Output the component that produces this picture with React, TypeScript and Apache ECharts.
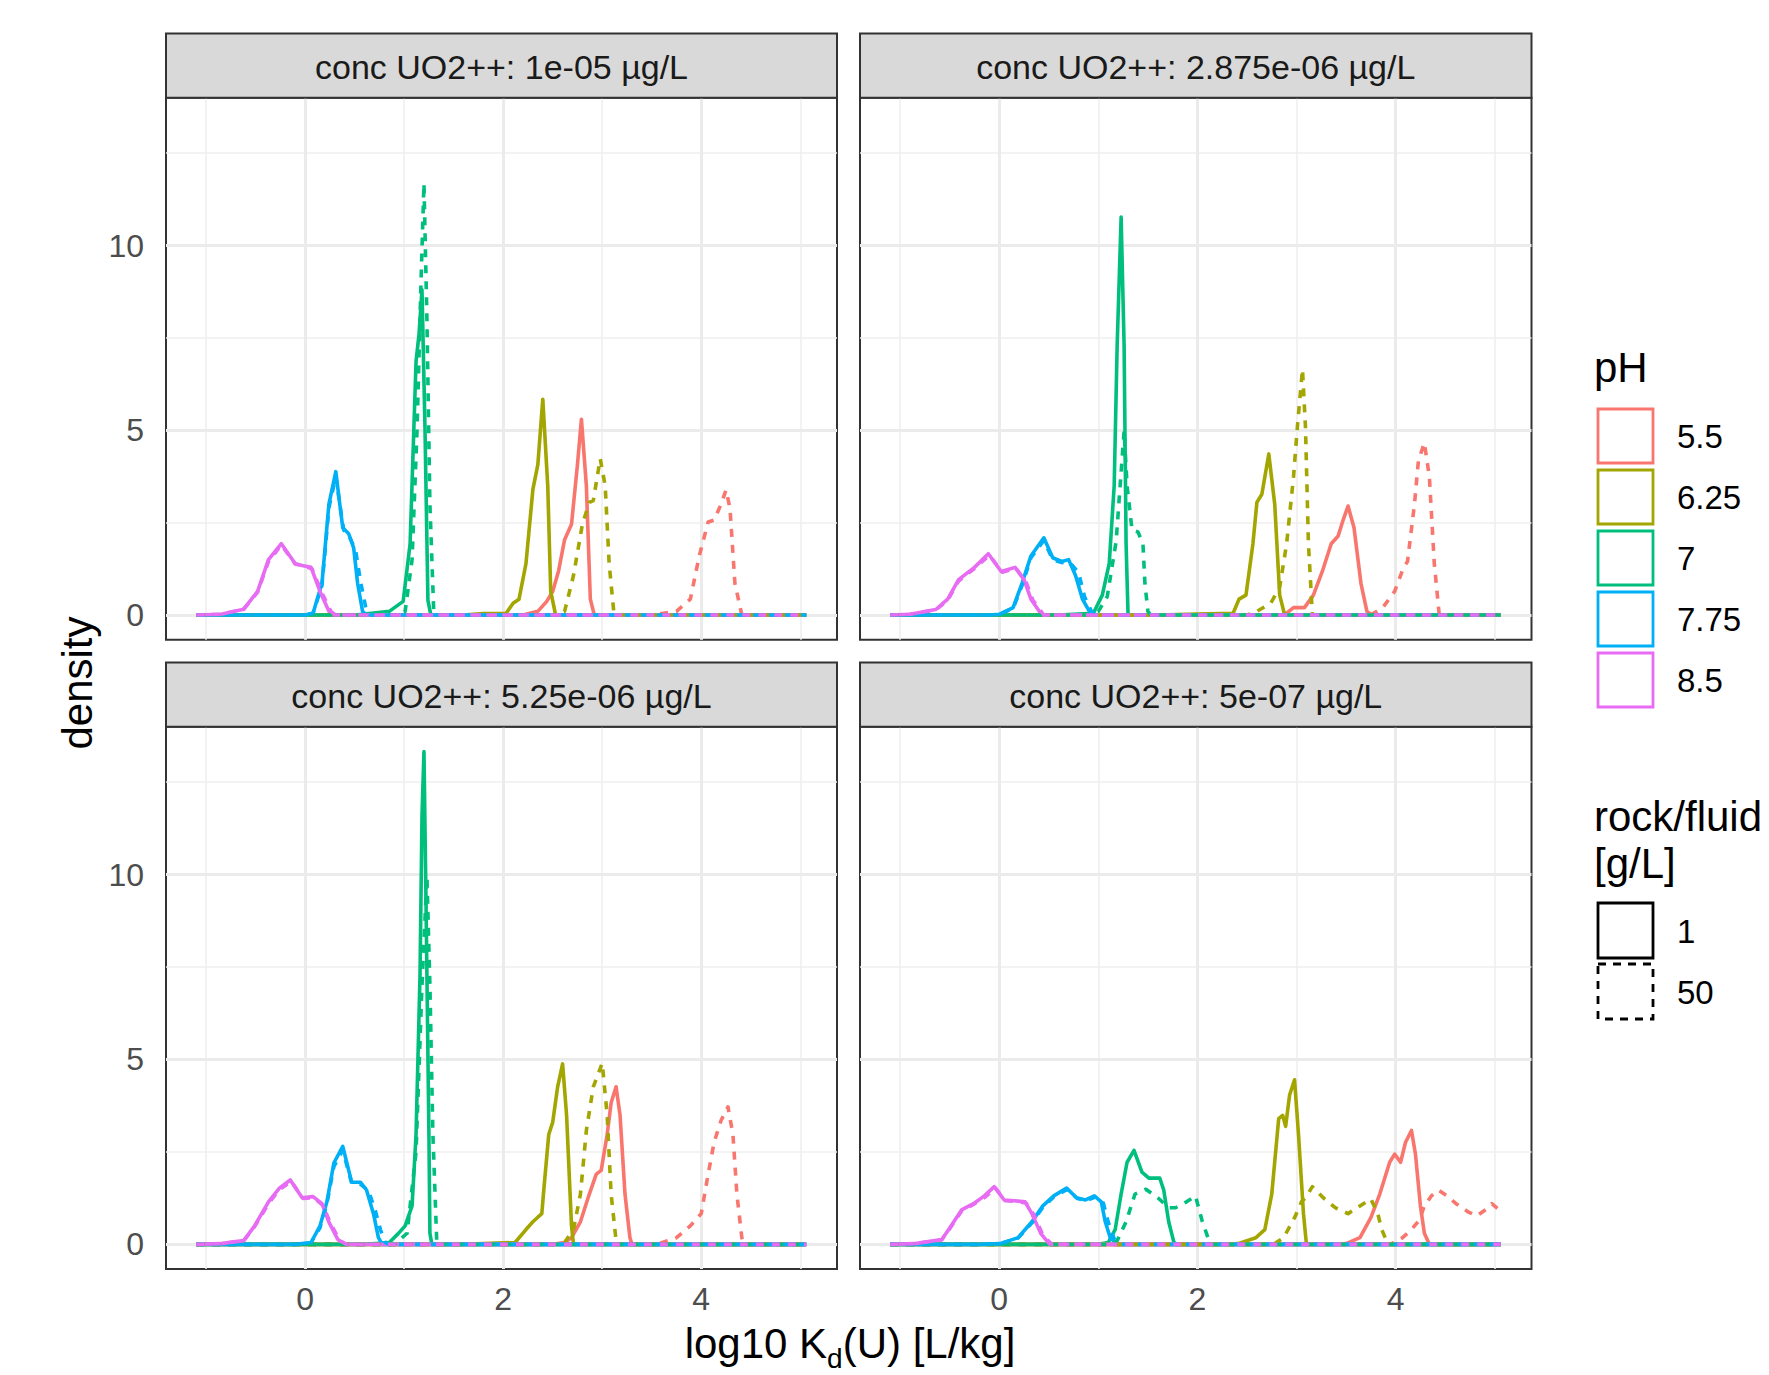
import React, { useEffect, useRef } from 'react';
import * as echarts from 'echarts';

// ---------- categories / labels ----------
const PH_LEVELS = ['5.5', '6.25', '7', '7.75', '8.5'];
const PH_COLORS = ['#F8766D', '#A3A500', '#00BF7D', '#00B0F6', '#E76BF3'];
const RF_LEVELS = ['1', '50'];
const PANEL_TITLES = [
  'conc UO2++: 1e-05 µg/L',
  'conc UO2++: 2.875e-06 µg/L',
  'conc UO2++: 5.25e-06 µg/L',
  'conc UO2++: 5e-07 µg/L',
];
const X_TICKS = [0, 2, 4];
const X_MINOR = [-1, 1, 3, 5];
const Y_TICKS = [0, 5, 10];
const Y_MINOR = [2.5, 7.5, 12.5];
const X_RANGE = [-1.405, 5.371];
const Y_RANGE = [-0.667, 14.0];

// ---------- density curves [log10 Kd, density] ----------
// Panel A: 1e-05
const A_55_1 = [[-1.1, 0], [2.2, 0], [2.35, 0.1], [2.44, 0.37], [2.5, 0.64], [2.56, 1.2], [2.62, 2.04], [2.69, 2.46], [2.75, 4.07], [2.79, 5.3], [2.84, 3.5], [2.88, 0.43], [2.92, 0], [5.06, 0]];
const A_55_50 = [[-1.1, 0], [3.5, 0], [3.75, 0.1], [3.89, 0.43], [3.98, 1.6], [4.07, 2.52], [4.13, 2.57], [4.2, 3.0], [4.25, 3.38], [4.29, 2.9], [4.34, 0.86], [4.41, 0], [5.06, 0]];
const A_625_1 = [[-1.1, 0], [1.6, 0], [1.8, 0.04], [2.03, 0.05], [2.1, 0.32], [2.16, 0.43], [2.23, 1.39], [2.3, 3.4], [2.35, 4.07], [2.4, 5.84], [2.45, 3.5], [2.48, 0.64], [2.53, 0], [5.06, 0]];
const A_625_50 = [[-1.1, 0], [2.5, 0], [2.62, 0.1], [2.71, 1.07], [2.8, 2.46], [2.87, 3.05], [2.91, 3.1], [2.98, 4.23], [3.03, 3.5], [3.07, 1.4], [3.12, 0], [5.06, 0]];
const A_7_1 = [[-1.1, 0], [0.5, 0], [0.58, 0.02], [0.85, 0.1], [0.99, 0.37], [1.06, 1.93], [1.12, 6.86], [1.15, 7.6], [1.18, 8.8], [1.21, 5.1], [1.24, 0.4], [1.27, 0], [5.06, 0]];
const A_7_50 = [[-1.1, 0], [0.9, 0], [1.01, 0.1], [1.08, 1.5], [1.13, 5.0], [1.17, 9.0], [1.2, 11.68], [1.23, 8.0], [1.26, 3.0], [1.3, 0], [5.06, 0]];
const A_775_1 = [[-1.1, 0], [0.0, 0], [0.08, 0.05], [0.17, 0.86], [0.24, 3.0], [0.31, 3.88], [0.35, 3.0], [0.38, 2.36], [0.44, 2.2], [0.49, 1.82], [0.53, 0.86], [0.58, 0.1], [0.62, 0], [5.06, 0]];
const A_775_50 = [[-1.1, 0], [0.0, 0], [0.08, 0.05], [0.17, 0.8], [0.24, 2.9], [0.31, 3.75], [0.35, 3.0], [0.39, 2.3], [0.45, 2.1], [0.51, 1.75], [0.56, 0.9], [0.62, 0.1], [0.66, 0], [5.06, 0]];
const A_85_1 = [[-1.1, 0], [-0.85, 0.02], [-0.62, 0.16], [-0.48, 0.64], [-0.37, 1.5], [-0.24, 1.93], [-0.1, 1.39], [-0.03, 1.34], [0.06, 1.29], [0.15, 0.64], [0.24, 0.1], [0.29, 0], [5.06, 0]];
const A_85_50 = [[-1.1, 0], [-0.85, 0.02], [-0.62, 0.16], [-0.48, 0.62], [-0.37, 1.45], [-0.24, 1.9], [-0.1, 1.38], [-0.02, 1.33], [0.07, 1.25], [0.17, 0.6], [0.26, 0.1], [0.31, 0], [5.06, 0]];

// Panel B: 2.875e-06
const B_55_1 = [[-1.1, 0], [2.85, 0], [2.9, 0.05], [2.97, 0.2], [3.08, 0.2], [3.17, 0.54], [3.26, 1.18], [3.35, 1.93], [3.42, 2.14], [3.47, 2.57], [3.52, 2.95], [3.58, 2.36], [3.65, 0.86], [3.71, 0.1], [3.76, 0], [5.06, 0]];
const B_55_50 = [[-1.1, 0], [3.7, 0], [3.76, 0.02], [3.87, 0.2], [3.99, 0.64], [4.08, 1.29], [4.12, 1.45], [4.19, 3.0], [4.23, 4.18], [4.29, 4.66], [4.34, 3.75], [4.39, 1.4], [4.44, 0], [5.06, 0]];
const B_625_1 = [[-1.1, 0], [1.6, 0], [2.0, 0.03], [2.36, 0.05], [2.42, 0.43], [2.49, 0.54], [2.56, 1.93], [2.6, 3.05], [2.65, 3.27], [2.72, 4.36], [2.78, 3.0], [2.83, 0.54], [2.88, 0], [5.06, 0]];
const B_625_50 = [[-1.1, 0], [2.5, 0], [2.6, 0.1], [2.74, 0.32], [2.83, 0.75], [2.9, 1.93], [2.97, 3.75], [3.01, 5.14], [3.06, 6.65], [3.09, 5.1], [3.12, 1.93], [3.16, 0], [5.06, 0]];
const B_7_1 = [[-1.1, 0], [0.6, 0], [0.95, 0.05], [1.04, 0.54], [1.11, 1.4], [1.16, 3.5], [1.19, 7.3], [1.23, 10.77], [1.26, 7.3], [1.28, 1.93], [1.3, 0], [5.06, 0]];
const B_7_50 = [[-1.1, 0], [0.9, 0], [1.0, 0.1], [1.09, 0.5], [1.18, 2.0], [1.22, 3.5], [1.26, 4.98], [1.29, 3.5], [1.34, 2.3], [1.4, 2.25], [1.45, 1.93], [1.47, 0.86], [1.5, 0.1], [1.53, 0], [5.06, 0]];
const B_775_1 = [[-1.1, 0], [-0.1, 0], [0.0, 0.02], [0.14, 0.2], [0.23, 0.86], [0.32, 1.6], [0.45, 2.09], [0.54, 1.55], [0.63, 1.45], [0.7, 1.5], [0.77, 1.07], [0.84, 0.43], [0.91, 0.1], [0.95, 0], [5.06, 0]];
const B_775_50 = [[-1.1, 0], [-0.1, 0], [0.0, 0.02], [0.14, 0.18], [0.23, 0.8], [0.32, 1.55], [0.45, 2.02], [0.54, 1.5], [0.63, 1.42], [0.72, 1.4], [0.8, 1.15], [0.86, 0.5], [0.93, 0.1], [0.98, 0], [5.06, 0]];
const B_85_1 = [[-1.1, 0], [-0.9, 0.02], [-0.64, 0.15], [-0.52, 0.43], [-0.41, 0.96], [-0.25, 1.29], [-0.11, 1.66], [0.02, 1.18], [0.16, 1.29], [0.25, 0.96], [0.32, 0.43], [0.43, 0], [5.06, 0]];
const B_85_50 = [[-1.1, 0], [-0.9, 0.02], [-0.64, 0.14], [-0.52, 0.4], [-0.41, 0.92], [-0.25, 1.26], [-0.1, 1.62], [0.03, 1.16], [0.17, 1.26], [0.27, 0.9], [0.34, 0.4], [0.45, 0], [5.06, 0]];

// Panel C: 5.25e-06
const C_55_1 = [[-1.1, 0], [2.5, 0], [2.62, 0.05], [2.69, 0.18], [2.78, 0.61], [2.87, 1.36], [2.94, 1.9], [2.99, 2.0], [3.05, 2.97], [3.09, 3.83], [3.14, 4.26], [3.18, 3.5], [3.23, 1.36], [3.28, 0.18], [3.3, 0], [5.06, 0]];
const C_55_50 = [[-1.1, 0], [3.5, 0], [3.57, 0.02], [3.75, 0.18], [3.89, 0.5], [4.0, 0.83], [4.07, 1.9], [4.13, 2.76], [4.2, 3.35], [4.27, 3.72], [4.32, 2.97], [4.36, 1.36], [4.41, 0.18], [4.43, 0], [5.06, 0]];
const C_625_1 = [[-1.1, 0], [1.6, 0], [2.12, 0.05], [2.23, 0.4], [2.3, 0.61], [2.39, 0.83], [2.41, 1.47], [2.46, 2.97], [2.5, 3.3], [2.55, 4.26], [2.6, 4.88], [2.64, 3.5], [2.69, 0.5], [2.71, 0], [5.06, 0]];
const C_625_50 = [[-1.1, 0], [2.5, 0], [2.62, 0.05], [2.71, 0.4], [2.78, 1.36], [2.84, 3.08], [2.91, 4.26], [3.0, 4.9], [3.05, 3.5], [3.09, 1.36], [3.14, 0.1], [3.17, 0], [5.06, 0]];
const C_7_1 = [[-1.1, 0], [0.6, 0], [0.85, 0.05], [0.94, 0.29], [1.01, 0.5], [1.08, 1.04], [1.12, 2.97], [1.16, 7.26], [1.18, 11.56], [1.2, 13.33], [1.22, 9.4], [1.25, 2.97], [1.26, 0.3], [1.28, 0], [5.06, 0]];
const C_7_50 = [[-1.1, 0], [0.9, 0], [1.03, 0.3], [1.12, 2.5], [1.18, 7.0], [1.23, 9.95], [1.26, 7.0], [1.29, 3.0], [1.33, 0], [5.06, 0]];
const C_775_1 = [[-1.1, 0], [-0.1, 0], [0.06, 0.05], [0.15, 0.5], [0.22, 1.15], [0.29, 2.2], [0.38, 2.65], [0.47, 1.68], [0.56, 1.68], [0.62, 1.47], [0.69, 0.83], [0.74, 0.18], [0.78, 0], [5.06, 0]];
const C_775_50 = [[-1.1, 0], [-0.1, 0], [0.06, 0.05], [0.15, 0.45], [0.22, 1.1], [0.29, 2.1], [0.38, 2.55], [0.47, 1.65], [0.56, 1.62], [0.64, 1.45], [0.71, 0.9], [0.76, 0.4], [0.81, 0.05], [0.84, 0], [5.06, 0]];
const C_85_1 = [[-1.1, 0], [-0.85, 0.02], [-0.62, 0.1], [-0.51, 0.5], [-0.37, 1.15], [-0.26, 1.52], [-0.15, 1.74], [-0.03, 1.26], [0.08, 1.29], [0.17, 1.1], [0.24, 0.6], [0.33, 0.13], [0.4, 0], [5.06, 0]];
const C_85_50 = [[-1.1, 0], [-0.85, 0.02], [-0.62, 0.1], [-0.51, 0.48], [-0.37, 1.1], [-0.26, 1.48], [-0.14, 1.7], [-0.02, 1.24], [0.09, 1.26], [0.18, 1.05], [0.26, 0.55], [0.35, 0.1], [0.42, 0], [5.06, 0]];

// Panel D: 5e-07
const D_55_1 = [[-1.1, 0], [3.4, 0], [3.5, 0.02], [3.64, 0.18], [3.75, 0.72], [3.84, 1.36], [3.94, 2.22], [3.99, 2.44], [4.05, 2.22], [4.1, 2.76], [4.16, 3.08], [4.2, 2.44], [4.25, 1.04], [4.29, 0.3], [4.34, 0], [5.06, 0]];
const D_55_50 = [[-1.1, 0], [3.9, 0], [3.96, 0.02], [4.07, 0.18], [4.16, 0.4], [4.24, 0.66], [4.29, 1.04], [4.36, 1.31], [4.43, 1.47], [4.52, 1.31], [4.61, 1.1], [4.73, 0.88], [4.82, 0.77], [4.91, 0.94], [4.97, 1.1], [5.06, 0.9]];
const D_625_1 = [[-1.1, 0], [2.3, 0], [2.41, 0.02], [2.59, 0.18], [2.68, 0.4], [2.75, 1.36], [2.82, 3.4], [2.86, 3.49], [2.89, 3.19], [2.93, 4.04], [2.98, 4.45], [3.02, 2.97], [3.07, 0.83], [3.1, 0], [5.06, 0]];
const D_625_50 = [[-1.1, 0], [2.7, 0], [2.78, 0.02], [2.87, 0.18], [2.98, 0.72], [3.05, 1.15], [3.09, 1.26], [3.16, 1.56], [3.27, 1.26], [3.39, 0.99], [3.52, 0.83], [3.64, 1.04], [3.75, 1.23], [3.82, 0.83], [3.86, 0.4], [3.91, 0.08], [3.93, 0], [5.06, 0]];
const D_7_1 = [[-1.1, 0], [1.0, 0], [1.1, 0.05], [1.17, 0.4], [1.23, 1.36], [1.29, 2.22], [1.36, 2.54], [1.44, 1.95], [1.51, 1.79], [1.62, 1.79], [1.66, 1.47], [1.71, 0.61], [1.76, 0.08], [1.78, 0], [5.06, 0]];
const D_7_50 = [[-1.1, 0], [1.1, 0], [1.19, 0.1], [1.28, 0.61], [1.37, 1.36], [1.48, 1.49], [1.6, 1.26], [1.71, 0.99], [1.78, 0.99], [1.89, 1.15], [1.98, 1.31], [2.05, 0.61], [2.12, 0.08], [2.14, 0], [5.06, 0]];
const D_775_1 = [[-1.1, 0], [-0.2, 0], [0.01, 0.02], [0.19, 0.18], [0.33, 0.61], [0.44, 1.04], [0.55, 1.31], [0.68, 1.52], [0.78, 1.26], [0.87, 1.2], [0.96, 1.31], [1.03, 1.15], [1.07, 0.61], [1.12, 0.18], [1.19, 0], [5.06, 0]];
const D_775_50 = [[-1.1, 0], [-0.2, 0], [0.01, 0.02], [0.19, 0.17], [0.33, 0.58], [0.44, 1.0], [0.55, 1.28], [0.68, 1.48], [0.79, 1.24], [0.88, 1.18], [0.97, 1.28], [1.05, 1.12], [1.1, 0.6], [1.16, 0.15], [1.23, 0], [5.06, 0]];
const D_85_1 = [[-1.1, 0], [-0.85, 0.02], [-0.58, 0.13], [-0.51, 0.4], [-0.38, 0.93], [-0.26, 1.1], [-0.15, 1.31], [-0.05, 1.56], [0.05, 1.2], [0.15, 1.18], [0.26, 1.15], [0.33, 0.83], [0.42, 0.29], [0.51, 0], [5.06, 0]];
const D_85_50 = [[-1.1, 0], [-0.85, 0.02], [-0.58, 0.12], [-0.51, 0.38], [-0.38, 0.9], [-0.26, 1.08], [-0.14, 1.28], [-0.04, 1.53], [0.06, 1.18], [0.16, 1.16], [0.27, 1.12], [0.35, 0.8], [0.44, 0.25], [0.53, 0], [5.06, 0]];

// panel -> pH -> [rock/fluid 1, rock/fluid 50]
const PANEL_CURVES = [
  [[A_55_1, A_55_50], [A_625_1, A_625_50], [A_7_1, A_7_50], [A_775_1, A_775_50], [A_85_1, A_85_50]],
  [[B_55_1, B_55_50], [B_625_1, B_625_50], [B_7_1, B_7_50], [B_775_1, B_775_50], [B_85_1, B_85_50]],
  [[C_55_1, C_55_50], [C_625_1, C_625_50], [C_7_1, C_7_50], [C_775_1, C_775_50], [C_85_1, C_85_50]],
  [[D_55_1, D_55_50], [D_625_1, D_625_50], [D_7_1, D_7_50], [D_775_1, D_775_50], [D_85_1, D_85_50]],
];

// ---------- layout ----------
const FONT = "'Liberation Sans', Arial, Helvetica, sans-serif";
const PANEL_BOXES = [
  { left: 166, top: 97.7, width: 671, height: 542 },
  { left: 860, top: 97.7, width: 671.5, height: 542 },
  { left: 166, top: 726.7, width: 671, height: 542.3 },
  { left: 860, top: 726.7, width: 671.5, height: 542.3 },
];
const STRIP_H = 64.2;
const LINE_W = 3.6;
const DASH = [8, 8];

function buildOption() {
  const grid = PANEL_BOXES.map((b) => ({
    left: b.left,
    top: b.top,
    width: b.width,
    height: b.height,
    show: true,
    borderColor: '#333333',
    borderWidth: 2,
    backgroundColor: '#FFFFFF',
    containLabel: false,
  }));

  const xAxis = PANEL_BOXES.map((_, i) => {
    const bottom = i >= 2;
    return {
      type: 'value',
      gridIndex: i,
      min: X_RANGE[0],
      max: X_RANGE[1],
      axisLine: { show: false },
      splitLine: { show: false },
      axisTick: {
        show: bottom,
        customValues: X_TICKS,
        length: 10,
        lineStyle: { color: '#333333', width: 2 },
      },
      axisLabel: {
        show: bottom,
        customValues: X_TICKS,
        margin: 14,
        fontSize: 32,
        color: '#4D4D4D',
        fontFamily: FONT,
      },
    };
  });

  const yAxis = PANEL_BOXES.map((_, i) => {
    const left = i % 2 === 0;
    return {
      type: 'value',
      gridIndex: i,
      min: Y_RANGE[0],
      max: Y_RANGE[1],
      axisLine: { show: false },
      splitLine: { show: false },
      axisTick: {
        show: left,
        customValues: Y_TICKS,
        length: 10,
        lineStyle: { color: '#333333', width: 2 },
      },
      axisLabel: {
        show: left,
        customValues: Y_TICKS,
        margin: 22,
        fontSize: 32,
        color: '#4D4D4D',
        fontFamily: FONT,
      },
    };
  });

  const series: any[] = [];
  // grid lines drawn through the axes' scales
  PANEL_BOXES.forEach((_, i) => {
    const major = { color: '#EBEBEB', width: 3, type: 'solid' };
    const minor = { color: '#EFEFEF', width: 1.6, type: 'solid' };
    series.push({
      type: 'line',
      name: 'grid' + i,
      xAxisIndex: i,
      yAxisIndex: i,
      data: [],
      silent: true,
      z: 1,
      markLine: {
        silent: true,
        symbol: ['none', 'none'],
        z: 1,
        label: { show: false },
        emphasis: { disabled: true },
        data: [
          ...Y_MINOR.map((v) => ({ yAxis: v, lineStyle: minor })),
          ...X_MINOR.map((v) => ({ xAxis: v, lineStyle: minor })),
          ...Y_TICKS.map((v) => ({ yAxis: v, lineStyle: major })),
          ...X_TICKS.map((v) => ({ xAxis: v, lineStyle: major })),
        ],
      },
    });
  });

  // curves: all solid first, then dashed
  PANEL_CURVES.forEach((panel, i) => {
    RF_LEVELS.forEach((rf, r) => {
      PH_LEVELS.forEach((ph, p) => {
        series.push({
          type: 'line',
          name: `${PANEL_TITLES[i]} | pH ${ph} | ${rf} g/L`,
          xAxisIndex: i,
          yAxisIndex: i,
          data: panel[p][r],
          showSymbol: false,
          symbol: 'none',
          z: 3,
          lineStyle: {
            color: PH_COLORS[p],
            width: LINE_W,
            type: r === 0 ? 'solid' : DASH,
            cap: 'butt',
            join: 'round',
          },
          emphasis: { disabled: true },
        });
      });
    });
  });

  const graphic: any[] = [];
  // facet strips
  PANEL_BOXES.forEach((b, i) => {
    graphic.push({
      type: 'rect',
      shape: { x: b.left, y: b.top - STRIP_H, width: b.width, height: STRIP_H },
      style: { fill: '#D9D9D9', stroke: '#333333', lineWidth: 2 },
      z: 10,
    });
    graphic.push({
      type: 'text',
      x: b.left + b.width / 2,
      y: b.top - STRIP_H / 2 + 1,
      style: {
        text: PANEL_TITLES[i],
        fill: '#1A1A1A',
        font: `34px ${FONT}`,
        textAlign: 'center',
        textVerticalAlign: 'middle',
      },
      z: 11,
    });
  });

  // axis titles
  graphic.push({
    type: 'text',
    x: 77,
    y: 683,
    rotation: Math.PI / 2,
    style: {
      text: 'density',
      fill: '#000000',
      font: `42px ${FONT}`,
      textAlign: 'center',
      textVerticalAlign: 'middle',
    },
  });
  graphic.push({
    type: 'text',
    x: 850,
    y: 1322,
    style: {
      text: '{a|log10 K}{s|d}{a|(U) [L/kg]}',
      textAlign: 'center',
      textVerticalAlign: 'top',
      rich: {
        a: { fontSize: 42, fontFamily: FONT, fill: '#000000', lineHeight: 46, verticalAlign: 'top' },
        s: { fontSize: 28, fontFamily: FONT, fill: '#000000', lineHeight: 24, verticalAlign: 'top', padding: [22, 0, 0, 0] },
      },
    },
  });

  // legend: pH
  graphic.push({
    type: 'text',
    x: 1594,
    y: 367,
    style: { text: 'pH', fill: '#000000', font: `42px ${FONT}`, textAlign: 'left', textVerticalAlign: 'middle' },
  });
  PH_LEVELS.forEach((ph, p) => {
    const y0 = 409 + p * 61;
    graphic.push({
      type: 'rect',
      shape: { x: 1598, y: y0, width: 55, height: 54 },
      style: { fill: '#FFFFFF', stroke: PH_COLORS[p], lineWidth: 2.8 },
    });
    graphic.push({
      type: 'text',
      x: 1677,
      y: y0 + 27,
      style: { text: ph, fill: '#000000', font: `33px ${FONT}`, textAlign: 'left', textVerticalAlign: 'middle' },
    });
  });

  // legend: rock/fluid
  graphic.push({
    type: 'text',
    x: 1594,
    y: 816,
    style: { text: 'rock/fluid', fill: '#000000', font: `42px ${FONT}`, textAlign: 'left', textVerticalAlign: 'middle' },
  });
  graphic.push({
    type: 'text',
    x: 1594,
    y: 863,
    style: { text: '[g/L]', fill: '#000000', font: `42px ${FONT}`, textAlign: 'left', textVerticalAlign: 'middle' },
  });
  RF_LEVELS.forEach((rf, r) => {
    const y0 = 903 + r * 61;
    graphic.push({
      type: 'rect',
      shape: { x: 1598, y: y0, width: 55, height: 55 },
      style: {
        fill: '#FFFFFF',
        stroke: '#000000',
        lineWidth: 2.8,
        lineDash: r === 0 ? null : [8, 7],
      },
    });
    graphic.push({
      type: 'text',
      x: 1677,
      y: y0 + 28,
      style: { text: rf, fill: '#000000', font: `33px ${FONT}`, textAlign: 'left', textVerticalAlign: 'middle' },
    });
  });

  return {
    animation: false,
    backgroundColor: '#FFFFFF',
    textStyle: { fontFamily: FONT },
    grid,
    xAxis,
    yAxis,
    series,
    graphic,
  };
}

export default function App() {
  const ref = useRef<HTMLDivElement>(null);
  useEffect(() => {
    if (!ref.current) return;
    const chart = echarts.init(ref.current, undefined, { renderer: 'svg' });
    chart.setOption(buildOption() as any);
    return () => chart.dispose();
  }, []);
  return (
    <div
      ref={ref}
      style={{ position: 'absolute', left: 0, top: 0, width: 1769, height: 1375, background: '#FFFFFF' }}
    />
  );
}
